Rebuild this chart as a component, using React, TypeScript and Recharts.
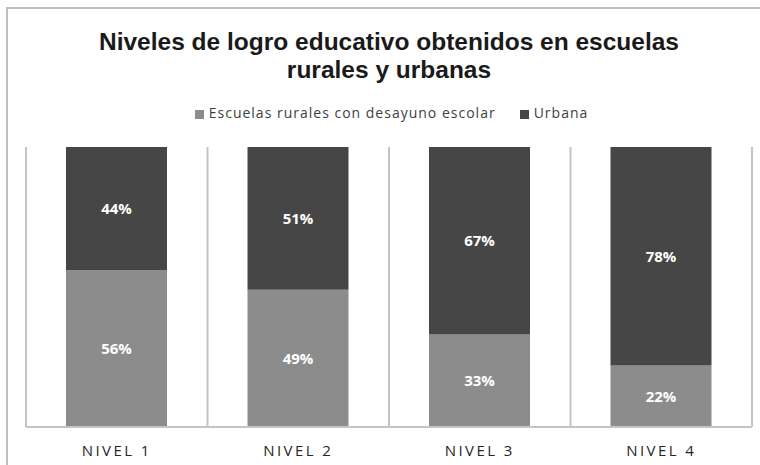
import React from "react";
import { BarChart, Bar, XAxis, YAxis, CartesianGrid, LabelList } from "recharts";

const niveles = ["NIVEL 1", "NIVEL 2", "NIVEL 3", "NIVEL 4"];
const rurales = [56, 49, 33, 22];
const urbana = [44, 51, 67, 78];

const data = niveles.map((nivel, i) => ({ nivel, rural: rurales[i], urbana: urbana[i] }));

const LIGHT = "#8c8c8c";
const DARK = "#464646";
const GRID = "#c4c4c4";

const legendItems = [
  { label: "Escuelas rurales con desayuno escolar", color: LIGHT },
  { label: "Urbana", color: DARK },
];

const labelStyle = { fontFamily: "'Open Sans', sans-serif", fontWeight: "bold", fontSize: 15 };

const App: React.FC = () => {
  return (
    <div style={{ position: "absolute", left: 0, top: 0, width: 760, height: 465, background: "#fff", overflow: "hidden" }}>
      <div
        style={{
          position: "absolute",
          left: 6,
          top: 7,
          width: 800,
          height: 500,
          borderTop: "2px solid #c0c0c0",
          borderLeft: "2px solid #c0c0c0",
        }}
      />
      <div
        style={{
          position: "absolute",
          left: 0,
          top: 28,
          width: 778,
          textAlign: "center",
          fontFamily: "'Liberation Sans', Arial, sans-serif",
          fontWeight: "bold",
          fontSize: 24.5,
          lineHeight: "28px",
          color: "#1a1a1a",
        }}
      >
        Niveles de logro educativo obtenidos en escuelas
        <br />
        rurales y urbanas
      </div>
      <div
        style={{
          position: "absolute",
          left: 0,
          top: 103,
          width: 783,
          display: "flex",
          justifyContent: "center",
          fontFamily: "'Open Sans', sans-serif",
          fontSize: 14,
          letterSpacing: 1,
          color: "#404040",
        }}
      >
        {legendItems.map((item, i) => (
          <span key={item.label} style={{ display: "flex", alignItems: "center", marginLeft: i ? 24 : 0 }}>
            <span style={{ width: 9, height: 9, background: item.color, marginRight: 5, marginTop: 3 }} />
            {item.label}
          </span>
        ))}
      </div>
      <div style={{ position: "absolute", left: 0, top: 0 }}>
        <BarChart width={760} height={465} data={data} margin={{ top: 147, right: 8, bottom: 8, left: 26 }}>
          <CartesianGrid
            horizontal={false}
            stroke={GRID}
            strokeWidth={2}
            verticalCoordinatesGenerator={({ offset }: any) =>
              niveles.map((_, i) => offset.left + (i * offset.width) / niveles.length).concat(offset.left + offset.width)
            }
          />
          <XAxis
            dataKey="nivel"
            height={30}
            tickLine={false}
            axisLine={{ stroke: GRID, strokeWidth: 2 }}
            tickMargin={12}
            tick={{ fontFamily: "'Open Sans', sans-serif", fontSize: 15, letterSpacing: 2.4, fill: "#262626" }}
          />
          <YAxis hide domain={[0, 100]} />
          <Bar dataKey="rural" stackId="a" fill={LIGHT} barSize={101} isAnimationActive={false}>
            <LabelList dataKey="rural" position="center" formatter={(v: any) => `${v}%`} fill="#fff" style={labelStyle} />
          </Bar>
          <Bar dataKey="urbana" stackId="a" fill={DARK} barSize={101} isAnimationActive={false}>
            <LabelList dataKey="urbana" position="center" formatter={(v: any) => `${v}%`} fill="#fff" style={labelStyle} />
          </Bar>
        </BarChart>
      </div>
    </div>
  );
};

export default App;
